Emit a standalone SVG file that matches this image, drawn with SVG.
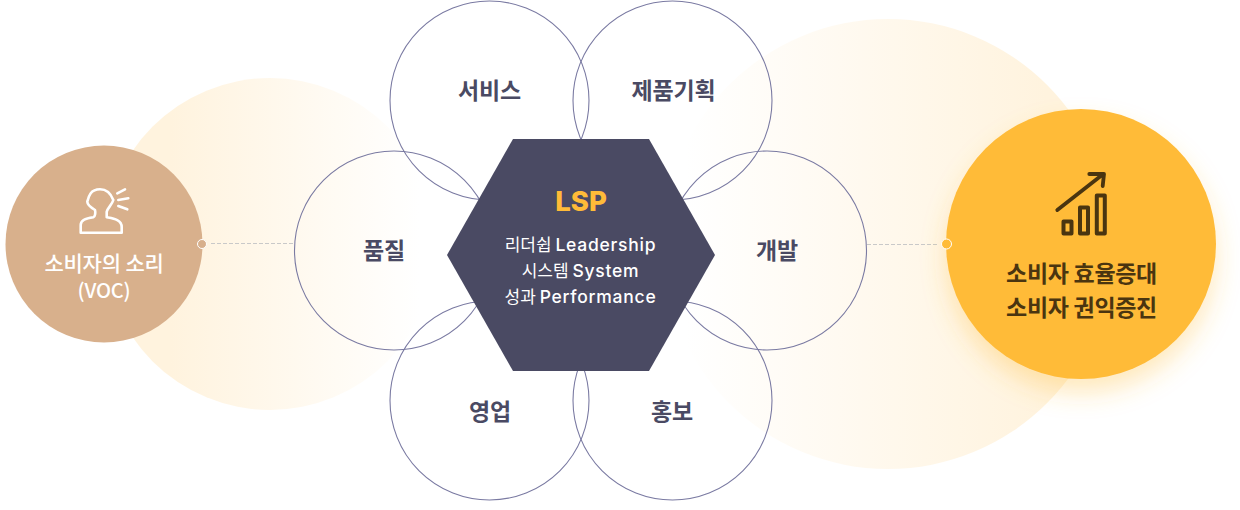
<svg xmlns="http://www.w3.org/2000/svg" width="1240" height="510" viewBox="0 0 1240 510">
<style>
text{text-anchor:middle;font-family:"Noto Sans CJK KR","Noto Sans",sans-serif}
.ring{fill:none;stroke:#7a7aa2;stroke-width:1.100}
.lab{font-size:23px;font-weight:700;fill:#4a4a63;letter-spacing:-.2px}
.sub{font-size:17px;font-weight:400;fill:#fff;font-family:"Noto Sans CJK KR",sans-serif}
.lat{font-size:17.500px;font-weight:500;font-family:"Inter",sans-serif;letter-spacing:.75px}
.voc{font-size:21px;font-weight:500;fill:#fff;letter-spacing:-.2px}
.res{font-size:23px;font-weight:700;fill:#4a3510;letter-spacing:-.3px}
.conn{stroke:#c9c9c9;stroke-width:1;stroke-dasharray:4 2;fill:none}
.ico{fill:none;stroke-linecap:round;stroke-linejoin:round}
</style>
<defs>
<linearGradient id="gl" x1="0" x2="1" y1="0" y2="0"><stop offset="0.2" stop-color="#fff3de"/><stop offset="0.95" stop-color="#fff" /></linearGradient>
<linearGradient id="gr" x1="0" x2="1" y1="0" y2="0"><stop offset="0.05" stop-color="#fff"/><stop offset="0.85" stop-color="#fff3de"/></linearGradient>
<filter id="sh" x="-30%" y="-30%" width="160%" height="160%"><feDropShadow dx="0" dy="14" stdDeviation="12" flood-color="#ffbb38" flood-opacity=".32"/></filter>
</defs>
<g id="backdrops">
<circle cx="270" cy="244" r="166" fill="url(#gl)"/>
<circle cx="888" cy="244" r="225" fill="url(#gr)"/>
</g>
<g id="connectors">
<path class="conn" d="M211 243.500H293"/>
<path class="conn" d="M867 244.500H938"/>
</g>
<g id="voc">
<circle cx="104" cy="244" r="98.500" fill="#d8b08c"/>
<path class="ico" stroke="#fff" stroke-width="2.600" d="M80.700 232.700V225C80.700 220 87 218 93.300 217.300C95.500 216.500 95.500 212 95 210C91 207.500 87.300 204.500 87.300 201.700C88.500 197 90 189.300 100 189.300C107 189.300 111 194 113.300 200C112 205 107.500 208 106.700 211.700V217.300C113 218.500 121.700 219.500 121.700 227V232.700Z"/>
<path class="ico" stroke="#fff" stroke-width="2.600" d="M117.300 193.300L125 189.300M118.300 200L128.300 198.300M118.300 206L127.300 209.300"/>
<text class="voc" x="104" y="271">소비자의 소리</text>
<text class="voc" x="104" y="298" style="font-size:20px">(VOC)</text>
<circle cx="202" cy="244" r="4.500" fill="#d8b08c" stroke="#fff" stroke-width="1"/>
</g>
<g id="quality"><circle class="ring" cx="394" cy="250.500" r="99.500"/><text class="lab" x="384" y="259">품질</text></g>
<g id="service"><circle class="ring" cx="489.500" cy="100.500" r="99.500"/><text class="lab" x="489.500" y="99">서비스</text></g>
<g id="planning"><circle class="ring" cx="672.500" cy="100.500" r="99.500"/><text class="lab" x="673.500" y="99">제품기획</text></g>
<g id="dev"><circle class="ring" cx="767" cy="250.500" r="99.500"/><text class="lab" x="777" y="259">개발</text></g>
<g id="sales"><circle class="ring" cx="489.500" cy="400.500" r="99.500"/><text class="lab" x="490" y="420">영업</text></g>
<g id="pr"><circle class="ring" cx="672.500" cy="400.500" r="99.500"/><text class="lab" x="672" y="420">홍보</text></g>
<g id="lsp">
<polygon points="513,139 649,139 715,255 649,371 513,371 447,255" fill="#4a4a63"/>
<text x="581" y="211" style="font-size:27.500px;font-weight:800;fill:#ffbb38;font-family:Inter,sans-serif">LSP</text>
<text class="sub" x="580.500" y="251">리더쉽 <tspan class="lat">Leadership</tspan></text>
<text class="sub" x="580.500" y="277">시스템 <tspan class="lat">System</tspan></text>
<text class="sub" x="580.500" y="303">성과 <tspan class="lat">Performance</tspan></text>
</g>
<g id="result">
<circle cx="1081" cy="244" r="135" fill="#ffbb38" filter="url(#sh)"/>
<path class="ico" stroke="#4a3510" stroke-width="3.800" d="M1057.300 210L1103.300 174M1089.300 174H1104L1102.700 186"/>
<path class="ico" stroke="#4a3510" stroke-width="4" d="M1063.500 221.500h8v12h-8zM1080 207.500h8v26h-8zM1096.800 195.500h8v38h-8z"/>
<text class="res" x="1081.500" y="282">소비자 효율증대</text>
<text class="res" x="1081.500" y="316">소비자 권익증진</text>
<circle cx="946.500" cy="244" r="5" fill="#ffbb38" stroke="#fff" stroke-width="1"/>
</g>
</svg>
